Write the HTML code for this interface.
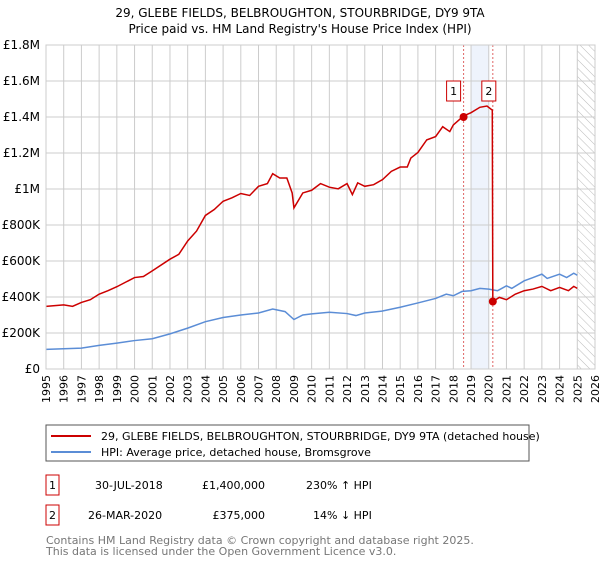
<!DOCTYPE html>
<html><head><meta charset="utf-8"><style>
body{margin:0;background:#fff;font-family:"DejaVu Sans","Liberation Sans",sans-serif;}
svg text{font-family:"DejaVu Sans","Liberation Sans",sans-serif;}
</style></head><body>
<svg id="c" width="600" height="560" xmlns="http://www.w3.org/2000/svg">
<defs><pattern id="hatch" width="6" height="6" patternUnits="userSpaceOnUse" patternTransform="rotate(-45)"><line x1="0" y1="0" x2="0" y2="6" stroke="#bbb" stroke-width="1"/></pattern></defs>
<text x="300" y="17" text-anchor="middle" font-size="12">29, GLEBE FIELDS, BELBROUGHTON, STOURBRIDGE, DY9 9TA</text>
<text x="300" y="33" text-anchor="middle" font-size="12">Price paid vs. HM Land Registry's House Price Index (HPI)</text>
<g id="grid"></g><g id="marks"></g><g id="axes"></g>
<rect x="46" y="425" width="483" height="36" fill="#fff" stroke="#555"/>
<line x1="51" y1="436" x2="91" y2="436" stroke="#cc0000" stroke-width="2"/>
<text x="101" y="440" font-size="11">29, GLEBE FIELDS, BELBROUGHTON, STOURBRIDGE, DY9 9TA (detached house)</text>
<line x1="51" y1="452" x2="91" y2="452" stroke="#5b8dd6" stroke-width="2"/>
<text x="101" y="456" font-size="11">HPI: Average price, detached house, Bromsgrove</text>
<rect x="46" y="475" width="13" height="20" fill="#fff" stroke="#cc0000"/>
<text x="52.5" y="489" font-size="11" text-anchor="middle">1</text>
<text x="95" y="489" font-size="11">30-JUL-2018</text>
<text x="265" y="489" font-size="11" text-anchor="end">£1,400,000</text>
<text x="306" y="489" font-size="11">230% ↑ HPI</text>
<rect x="46" y="505" width="13" height="20" fill="#fff" stroke="#cc0000"/>
<text x="52.5" y="519" font-size="11" text-anchor="middle">2</text>
<text x="88" y="519" font-size="11">26-MAR-2020</text>
<text x="265" y="519" font-size="11" text-anchor="end">£375,000</text>
<text x="313" y="519" font-size="11">14% ↓ HPI</text>
<text x="46" y="544" font-size="11" fill="#777">Contains HM Land Registry data © Crown copyright and database right 2025.</text>
<text x="46" y="555" font-size="11" fill="#777">This data is licensed under the Open Government Licence v3.0.</text>
</svg>
<script>
const yTicks=[0,200000,400000,600000,800000,1000000,1200000,1400000,1600000,1800000];
const yTickLabels=["£0","£200K","£400K","£600K","£800K","£1M","£1.2M","£1.4M","£1.6M","£1.8M"];
const years=[1995,1996,1997,1998,1999,2000,2001,2002,2003,2004,2005,2006,2007,2008,2009,2010,2011,2012,2013,2014,2015,2016,2017,2018,2019,2020,2021,2022,2023,2024,2025,2026];
const hpiDates=[1995,1997,1998,1999,2000,2001,2002,2003,2004,2005,2006,2007,2007.8,2008.5,2009,2009.5,2010,2011,2012,2012.5,2013,2014,2015,2016,2017,2017.6,2018,2018.5,2019,2019.5,2020,2020.5,2021,2021.3,2022,2022.5,2023,2023.3,2024,2024.4,2024.8,2025];
const hpiValues=[109000,116000,131000,144000,158000,168000,195000,227000,263000,286000,300000,311000,333000,319000,275000,300000,306000,315000,308000,297000,311000,322000,343000,367000,392000,416000,407000,431000,435000,448000,444000,435000,462000,448000,490000,508000,527000,503000,527000,508000,532000,521000];
const propDates=[1995,1996,1996.5,1997,1997.5,1998,1998.5,1999,2000,2000.5,2001,2002,2002.5,2003,2003.5,2004,2004.5,2005,2005.5,2006,2006.5,2007,2007.5,2007.8,2008.2,2008.6,2008.9,2009,2009.5,2010,2010.5,2011,2011.5,2012,2012.3,2012.6,2013,2013.5,2014,2014.5,2015,2015.4,2015.6,2016,2016.5,2017,2017.4,2017.8,2018,2018.58,2019,2019.5,2019.9,2020.2,2020.23,2020.6,2021,2021.5,2022,2022.5,2023,2023.5,2024,2024.5,2024.8,2025];
const propValues=[348000,356000,348000,370000,385000,416000,435000,457000,508000,514000,545000,610000,637000,711000,766000,853000,886000,932000,951000,975000,964000,1015000,1030000,1085000,1061000,1061000,978000,895000,978000,993000,1030000,1010000,1001000,1030000,969000,1034000,1015000,1024000,1052000,1098000,1122000,1122000,1172000,1203000,1273000,1291000,1346000,1319000,1356000,1406000,1424000,1454000,1461000,1438000,375000,398000,385000,416000,435000,444000,459000,435000,453000,435000,459000,448000];
const saleDates=[2018.58,2020.23];
const salePrices=[1400000,375000];
const saleLabels=["1","2"];
const X0=46,X1=595,Y0=369,Y1=45;
const xs=d=>X0+(d-1995)/31*(X1-X0);
const ys=v=>Y0-v/1800000*(Y0-Y1);
const NS="http://www.w3.org/2000/svg";
function mk(tag,attrs,parent){const e=document.createElementNS(NS,tag);for(const k in attrs)e.setAttribute(k,attrs[k]);document.getElementById(parent).appendChild(e);return e;}
let e;
e=mk('rect',{x:xs(2019),y:Y1,width:xs(2020)-xs(2019),height:Y0-Y1,fill:'#eef3fc'},'grid');


e=mk('rect',{x:xs(2025),y:Y1,width:X1-xs(2025),height:Y0-Y1,fill:'url(#hatch)'},'grid');


years.forEach(y=>{e=mk('line',{x1:xs(y),x2:xs(y),y1:Y1,y2:Y0,stroke:'#ccc'},'grid');


e=mk('text',{x:0,y:0,'font-size':11,'text-anchor':'end',transform:`translate(${xs(y)+4},${Y0+6}) rotate(-90)`},'axes');
e.textContent=y;

});
yTicks.forEach((v,i)=>{e=mk('line',{x1:X0,x2:X1,y1:ys(v),y2:ys(v),stroke:'#ccc'},'grid');


e=mk('text',{x:X0-6,y:ys(v)+4,'font-size':12,'text-anchor':'end'},'axes');
e.textContent=yTickLabels[i];

});
saleDates.forEach((d,i)=>{e=mk('line',{x1:xs(d),x2:xs(d),y1:Y1,y2:Y0,stroke:'#e06666','stroke-dasharray':'2,2'},'grid');

});
e=mk('polyline',{points:hpiDates.map((d,i)=>xs(d)+','+ys(hpiValues[i])).join(' '),fill:'none',stroke:'#5b8dd6','stroke-width':1.5},'marks');


e=mk('polyline',{points:propDates.map((d,i)=>xs(d)+','+ys(propValues[i])).join(' '),fill:'none',stroke:'#cc0000','stroke-width':1.5},'marks');


saleDates.forEach((d,i)=>{e=mk('circle',{cx:xs(d),cy:ys(salePrices[i]),r:4,fill:'#cc0000'},'marks');


const bx=xs(d)-(i==0?3:-3)-14;
e=mk('rect',{x:bx,y:81,width:14,height:20,fill:'#fff',stroke:'#cc0000'},'marks');


e=mk('text',{x:bx+7,y:95,'font-size':11,'text-anchor':'middle'},'marks');
e.textContent=saleLabels[i];

});
e=mk('rect',{x:X0,y:Y1,width:X1-X0,height:Y0-Y1,fill:'none',stroke:'#ccc'},'axes');


</script>
</body></html>
